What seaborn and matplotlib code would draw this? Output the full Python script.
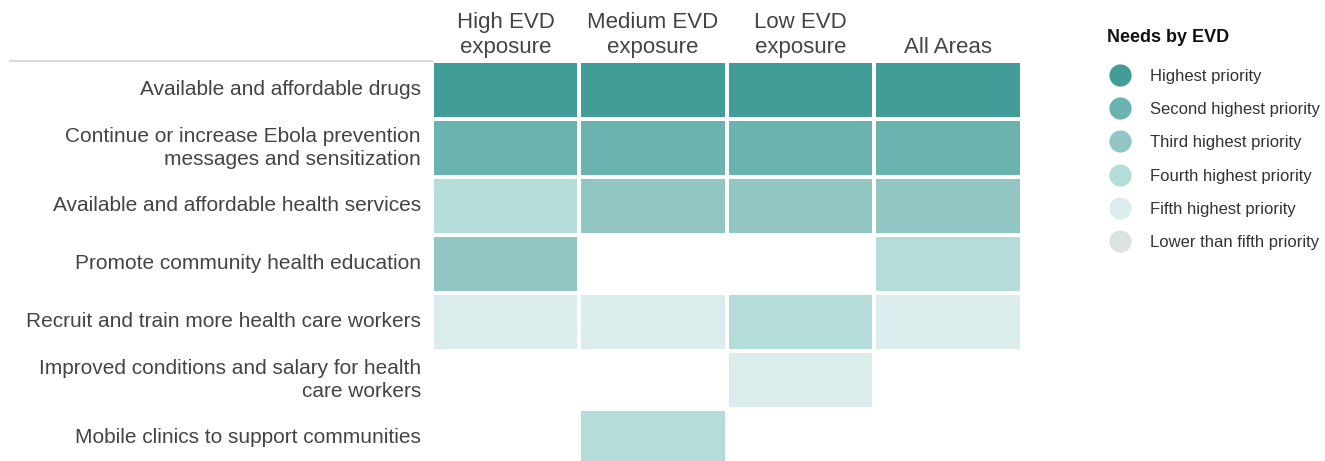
import numpy as np
import pandas as pd
import matplotlib
matplotlib.use("Agg")
import matplotlib.pyplot as plt
from matplotlib.colors import ListedColormap
from matplotlib.lines import Line2D
import seaborn as sns

needs = ["Available and affordable drugs",
         "Continue or increase Ebola prevention\nmessages and sensitization",
         "Available and affordable health services",
         "Promote community health education",
         "Recruit and train more health care workers",
         "Improved conditions and salary for health\ncare workers",
         "Mobile clinics to support communities"]
areas = ["High EVD\nexposure", "Medium EVD\nexposure", "Low EVD\nexposure", "All Areas"]

# priority rank (1 = highest), nan = not among top needs
high = [1, 2, 4, 3, 5, np.nan, np.nan]
medium = [1, 2, 3, np.nan, 5, np.nan, 4]
low = [1, 2, 3, np.nan, 4, 5, np.nan]
all_areas = [1, 2, 3, 4, 5, np.nan, np.nan]

levels = ["Highest priority", "Second highest priority", "Third highest priority",
          "Fourth highest priority", "Fifth highest priority", "Lower than fifth priority"]
colors = ["#429c98", "#6ab3af", "#92c6c3", "#b4dcd9", "#daedec", "#dce2e1"]

df = pd.DataFrame({areas[0]: high, areas[1]: medium, areas[2]: low, areas[3]: all_areas},
                  index=needs)

plt.rcParams['font.family'] = ['Liberation Sans', 'DejaVu Sans']
fig = plt.figure(figsize=(13.25, 4.61), dpi=100)
ax = fig.add_axes([0.326, -0.013, 0.445, 0.881])

sns.heatmap(df, ax=ax, cmap=ListedColormap(colors), vmin=0.5, vmax=6.5,
            cbar=False, linewidths=1.6, linecolor="white")

ax.xaxis.tick_top()
ax.set_xticklabels(areas, fontsize=16, color="#444444", linespacing=1.25)
ax.set_yticklabels(needs, fontsize=15, color="#444444", rotation=0, ha="right",
                   multialignment="right", linespacing=1.25)
ax.tick_params(axis="y", length=0, pad=8)
ax.tick_params(axis="x", length=0, pad=2)
ax.set_xlabel("")
ax.set_ylabel("")

# separator line under header
fig.add_artist(Line2D([0.0075, 0.326], [0.868, 0.868], color="#d9d9d9", lw=1.5))

fig.text(1107 / 1325, 1 - 37 / 461, "Needs by EVD", fontsize=13, fontweight="bold",
         color="#111111", va="center", ha="left")
handles = [Line2D([], [], marker="o", ls="", markersize=16, color=c, markeredgewidth=0)
           for c in colors]
leg = fig.legend(handles, levels, loc="upper left", bbox_to_anchor=(0.828, 1 - 62 / 461),
                 frameon=False, fontsize=12, labelspacing=1.1, handletextpad=0.8,
                 borderaxespad=0)
for t in leg.get_texts():
    t.set_color("#333333")

fig.savefig("out.png", dpi=100)
